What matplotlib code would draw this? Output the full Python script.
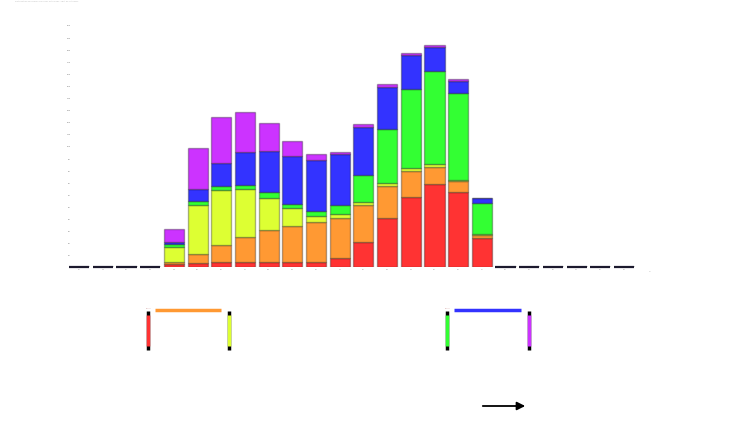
import matplotlib
matplotlib.use("Agg")
import matplotlib.pyplot as plt
import numpy as np
from matplotlib.lines import Line2D

hours = [f"{h:02d}" for h in range(24)]
series_names = ["A", "B", "C", "D", "E", "F"]
series_colors = ["#ff3333", "#ff9933", "#ddff33", "#33ff33", "#3333ff", "#cc33ff"]

pad_before = [0, 0, 0, 0]
pad_after = [0, 0, 0, 0, 0, 0]
red = pad_before + [2.5, 3.3, 4.1, 4.1, 3.9, 4.1, 4.4, 7.4, 20.7, 40.2, 57.6, 68.3, 62.2, 24.0] + pad_after
orange = pad_before + [1.4, 7.4, 14.0, 20.9, 26.7, 29.8, 32.6, 33.3, 30.3, 26.4, 21.5, 14.5, 8.8, 2.2] + pad_after
yellow = pad_before + [12.6, 40.7, 45.5, 39.7, 26.7, 14.9, 5.0, 2.7, 2.5, 2.5, 2.5, 2.0, 0.5, 0.8] + pad_after
green = pad_before + [2.2, 2.8, 3.0, 3.0, 4.5, 3.6, 4.6, 8.0, 22.8, 45.1, 65.3, 77.4, 72.1, 26.1] + pad_after
blue = pad_before + [2.1, 10.2, 19.3, 27.6, 33.9, 39.7, 41.9, 42.1, 39.4, 34.5, 28.3, 19.8, 10.2, 3.6] + pad_after
purple = pad_before + [10.5, 33.6, 38.0, 33.0, 23.1, 11.9, 4.7, 1.7, 2.2, 2.2, 1.4, 1.4, 1.7, 0.0] + pad_after

y_ticks = list(range(0, 201, 10))

W, H = 732, 439
fig = plt.figure(figsize=(W / 100, H / 100), dpi=100)
ax = fig.add_axes([64 / W, 1 - 268 / H, (650 - 64) / W, (268 - 26) / H])

x = np.arange(len(hours))
width = 0.85
bottom = np.zeros(len(hours))
for name, color, vals in zip(series_names, series_colors,
                             [red, orange, yellow, green, blue, purple]):
    vals = np.array(vals, dtype=float)
    ax.bar(x, vals, width=width, bottom=bottom, color=color,
           edgecolor=(0, 0, 0, 0.3), linewidth=1.0, label=name)
    bottom += vals

# empty hours show up as a dark stub on the baseline
empty = x[bottom == 0]
ax.hlines(np.zeros(len(empty)), empty - width / 2, empty + width / 2,
          color="#1c1a2e", linewidth=1.6, clip_on=False)

ax.set_xlim(-0.64, 24.1)
ax.set_ylim(0, 200)
ax.set_xticks(x)
ax.set_xticklabels(hours, fontsize=1.5, color="#999999")
ax.set_yticks(y_ticks)
ax.set_yticklabels([str(v) for v in y_ticks], fontsize=1.5, color="#777777")
ax.tick_params(length=0, pad=1)
ax.tick_params(axis="y", pad=-5)
for s in ax.spines.values():
    s.set_visible(False)
fig.text(0.02, 0.999, "distribution of records per hour of the day, split by category",
         fontsize=1.5, color="#bbbbbb", va="top")
ax.text(24.05, -3, "h", fontsize=1.5, color="#999999")


def px_line(x0, y0, x1, y1, color, lw=2.5):
    fig.add_artist(Line2D([x0 / W, x1 / W], [1 - y0 / H, 1 - y1 / H],
                          color=color, linewidth=lw, solid_capstyle="butt"))


# legend-like brackets
for left_x, right_x, c_left, c_top, c_right in [
    (148, 229, series_colors[0], series_colors[1], series_colors[2]),
    (447, 529, series_colors[3], series_colors[4], series_colors[5]),
]:
    for xx, cc in [(left_x, c_left), (right_x, c_right)]:
        px_line(xx, 312, xx, 351, "black")
        px_line(xx, 316, xx, 347, cc)
    px_line(left_x + 7, 311, right_x - 8, 311, c_top)
    fig.text((left_x - 2) / W, 1 - 309 / H, "legend", fontsize=1.2, color="#cc9999")

ax.annotate("", xy=(528 / W, 1 - 407 / H), xytext=(480 / W, 1 - 407 / H),
            xycoords="figure fraction",
            arrowprops=dict(arrowstyle="-|>", color="black", lw=1.3, mutation_scale=12))

fig.savefig("out.png", dpi=100)
